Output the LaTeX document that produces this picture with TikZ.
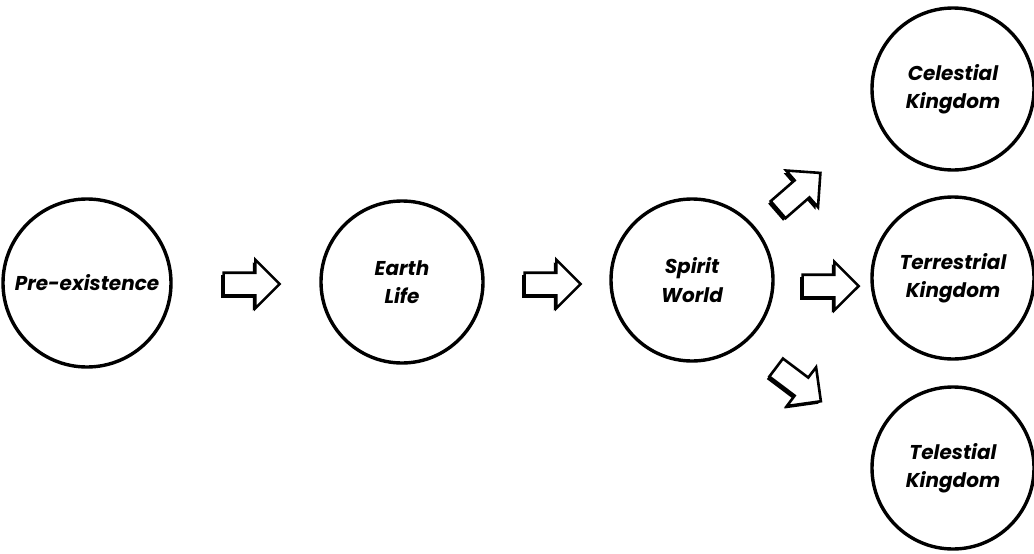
\documentclass[tikz,border=0pt]{standalone}
\usepackage{fontspec}
\setmainfont{Poppins}
\usetikzlibrary{shapes.arrows,shadows}

\begin{document}
\begin{tikzpicture}[
    x=1pt, y=-1pt,
    stage/.style={draw, circle, line width=3.4pt, minimum size=162pt, inner sep=0pt,
        align=center, font=\fontsize{20}{28.5}\selectfont\bfseries\itshape},
    blockarrow/.style={draw, single arrow, line width=2.6pt, fill=white,
        minimum height=56pt, inner xsep=0pt, inner ysep=10pt,
        single arrow head extend=13pt, single arrow head indent=0pt,
        drop shadow={shadow xshift=-2.5pt, shadow yshift=-2.5pt, fill=black, opacity=1}}
]
\useasboundingbox (0,0) rectangle (1034,554);

% ---- Main line ----
\node[stage, minimum size=168pt] (pre) at (87,283) {Pre-existence};
\node[stage] (earth) at (402,282) {Earth\\Life};
\node[stage] (spirit) at (692,280) {Spirit\\World};

% ---- Kingdoms ----
\node[stage] (celestial) at (953,89) {Celestial\\Kingdom};
\node[stage] (terrestrial) at (953,278) {Terrestrial\\Kingdom};
\node[stage] (telestial) at (953,468) {Telestial\\Kingdom};

% Arrows between stages
\node[blockarrow] (a1) at (246,284) {};
\node[blockarrow] (a2) at (547,284) {};
\node[blockarrow] (a3) at (825,286) {};
\node[blockarrow, rotate=41] (a4) at (795,195) {};
\node[blockarrow, rotate=-37] (a5) at (794,381) {};
\end{tikzpicture}
\end{document}
